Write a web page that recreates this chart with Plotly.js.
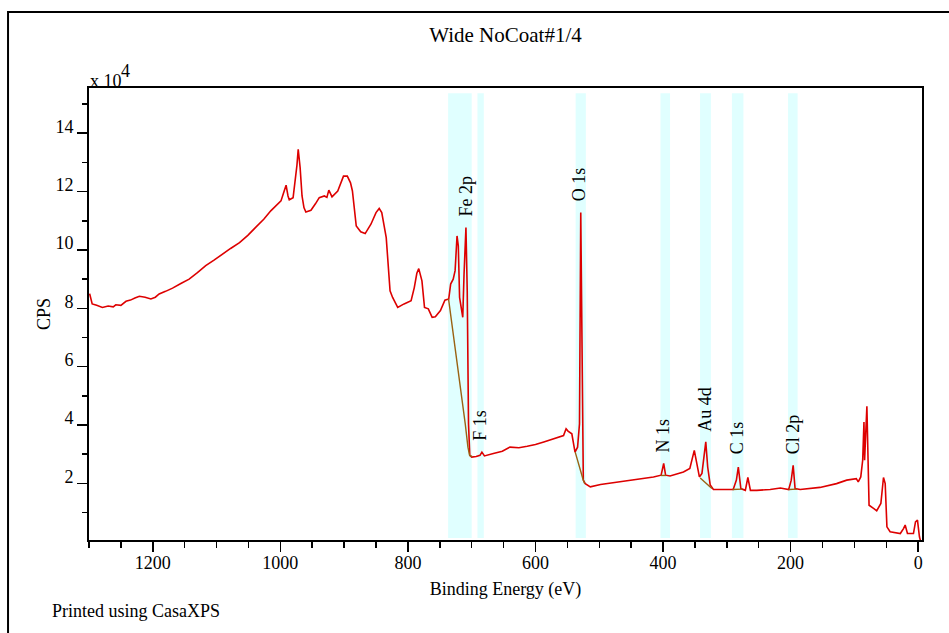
<!DOCTYPE html>
<html>
<head>
<meta charset="utf-8">
<script src="https://cdn.plot.ly/plotly-3.0.1.min.js"></script>
<style>html,body{margin:0;padding:0;background:#fff;}#chart{width:949px;height:633px;}</style>
</head>
<body>
<div id="chart"></div>
<script>
// Binding energy (eV) and CPS (x 10^4) of the survey spectrum
const energy = [1299,1297,1295,1288,1279,1270,1262,1258,1250,1242,1235,1228,1221,1212,1203,1196,1190,1180,1169,1156,1143,1130,1117,1104,1091,1078,1064,1051,1038,1026,1015,1006,999,995,991,988,986,980,977,974,972,969,966,963,960,952,945,939,931,927,924,921,919,910,904,901,895,890,887,884,881,874,867,858,850,845,841,834,828,824,816,806,795,790,786,783,780,778,774,768,762,757,749,742,736,733,729,726,723,721,719,715,714,712,709,707,705,703,700,693,687,684,680,666,652,640,626,613,600,587,576,566,556,552,549,543,538,534,531,529,527,525,522,514,498,467,441,415,403,399,396,389,368,358,351,348,343,339,336,333,330,326,321,305,290,285,282,278,271,267,263,253,232,216,203,199,196,193,185,154,128,112,97,94,90,87,85,84,82,80.4,79,77,70,65,58.5,54.4,51.7,49,44,28,23,20.4,16.8,7.4,4.2,1.1,-2,-4];
const cps = [8.50,8.30,8.15,8.10,8.03,8.08,8.05,8.12,8.10,8.24,8.28,8.35,8.41,8.38,8.32,8.38,8.49,8.58,8.69,8.85,9.00,9.22,9.46,9.65,9.86,10.05,10.25,10.50,10.79,11.05,11.34,11.52,11.68,11.95,12.22,11.85,11.72,11.79,12.30,12.90,13.45,12.82,11.85,11.45,11.30,11.36,11.58,11.79,11.85,11.80,12.05,11.90,11.82,12.02,12.35,12.53,12.53,12.30,12.02,11.40,10.82,10.62,10.56,10.88,11.28,11.42,11.28,10.42,8.60,8.37,8.03,8.15,8.26,8.71,9.20,9.36,9.10,8.94,8.03,7.98,7.69,7.71,7.92,8.28,8.32,8.83,9.00,9.29,10.48,10.14,8.37,7.92,7.69,9.17,10.77,8.60,4.04,2.96,2.90,2.92,2.96,3.07,2.94,3.02,3.10,3.24,3.22,3.27,3.33,3.42,3.50,3.59,3.64,3.87,3.79,3.70,3.07,3.24,4.04,11.28,7.46,2.11,1.99,1.88,1.96,2.05,2.13,2.22,2.28,2.68,2.28,2.25,2.39,2.51,3.13,2.79,2.22,2.34,2.79,3.42,2.56,1.94,1.79,1.79,1.79,2.11,2.56,1.82,1.76,2.20,1.76,1.76,1.79,1.84,1.79,2.11,2.62,1.82,1.79,1.86,1.99,2.11,2.16,2.05,2.22,2.79,4.10,2.79,3.70,4.64,3.24,1.25,1.14,1.06,1.31,2.20,1.99,0.51,0.34,0.28,0.45,0.57,0.28,0.28,0.68,0.74,0.17,0.0];

// Peak backgrounds (gaps separate regions)
const bgEnergy = [736.3,731,725.8,720.6,715.3,710.1,705.9,703.3,699.6,null,537.7,531.5,525.7,522.9,null,403.4,395.5,null,341.7,332,323.4,null,291,276,null,203,190];
const bgCps = [8.32,7.46,6.66,5.87,4.95,4.04,3.24,2.96,2.92,null,3.07,2.56,2.16,1.99,null,2.27,2.27,null,2.18,2.0,1.82,null,1.79,1.80,null,1.79,1.80];

// Quantification regions
const regionNames = ['Fe 2p','F 1s','O 1s','N 1s','Au 4d','C 1s','Cl 2p'];
const regionHigh = [737,691,537,404,342,292,204];
const regionLow = [700,681,521,389,325,274,189];
const labelEnergy = [709.4,687.4,531.4,399.8,334.7,283.7,196];
const labelCps = [11.12,3.43,11.64,3.03,3.74,2.95,2.97];

const xTickVals = [1200,1000,800,600,400,200,0];
const yTickVals = [2,4,6,8,10,12,14];

const FONT = '"Liberation Serif", "Times New Roman", serif';

const shapes = regionNames.map((n,i)=>({
  type:'rect', xref:'x', yref:'y', x0:regionLow[i], x1:regionHigh[i], y0:0.13, y1:15.37,
  fillcolor:'#e0ffff', line:{width:0}, layer:'below'
}));
// outer frame of the printout
shapes.push({type:'rect', xref:'paper', yref:'paper', x0:-0.0972, x1:1.06, y0:-0.25, y1:1.168,
  line:{color:'#000', width:2}, fillcolor:'rgba(0,0,0,0)', layer:'above'});

const annotations = regionNames.map((n,i)=>({
  x:labelEnergy[i], y:labelCps[i], xref:'x', yref:'y', text:n, textangle:-90,
  showarrow:false, xanchor:'center', yanchor:'bottom', borderpad:0,
  font:{family:FONT, size:18, color:'#000'}
}));
annotations.push({xref:'paper', yref:'paper', x:0, y:1.015, xanchor:'left', yanchor:'middle',
  text:'x 10', showarrow:false, borderpad:0, font:{family:FONT, size:18, color:'#000'}});
annotations.push({xref:'paper', yref:'paper', x:0.0375, y:1.038, xanchor:'left', yanchor:'middle',
  text:'4', showarrow:false, borderpad:0, font:{family:FONT, size:18, color:'#000'}});
annotations.push({xref:'paper', yref:'paper', x:-0.046, y:-0.157, xanchor:'left', yanchor:'middle',
  text:'Printed using CasaXPS', showarrow:false, borderpad:0, font:{family:FONT, size:18, color:'#000'}});

const data = [
  {x:energy, y:cps, type:'scatter', mode:'lines', line:{color:'#dd0000', width:1.6}, hoverinfo:'skip'},
  {x:bgEnergy, y:bgCps, type:'scatter', mode:'lines', line:{color:'#9a6212', width:1.4}, connectgaps:false, hoverinfo:'skip'}
];

const layout = {
  width:949, height:633,
  margin:{l:89, r:27, t:88, b:93},
  paper_bgcolor:'#fff', plot_bgcolor:'#fff',
  showlegend:false,
  font:{family:FONT, size:18, color:'#000'},
  title:{text:'Wide NoCoat#1/4', font:{family:FONT, size:21, color:'#000'}, x:0.5, xref:'paper', y:0.946, yref:'container', yanchor:'middle'},
  xaxis:{
    range:[1300,-6], tickvals:xTickVals, ticks:'outside', ticklen:10, tickwidth:1.5, tickcolor:'#000',
    minor:{dtick:50, tick0:0, ticks:'outside', ticklen:6, tickwidth:1.5, tickcolor:'#000'},
    showgrid:false, zeroline:false, showline:true, linewidth:2, linecolor:'#000', mirror:true,
    tickfont:{family:FONT, size:18}, ticklabelstandoff:-5,
    title:{text:'Binding Energy (eV)', font:{family:FONT, size:18}, standoff:11}
  },
  yaxis:{
    range:[0.058,15.55], tickvals:yTickVals, ticks:'outside', ticklen:10, tickwidth:1.5, tickcolor:'#000',
    minor:{dtick:1, tick0:0, ticks:'outside', ticklen:5, tickwidth:1.5, tickcolor:'#000'},
    showgrid:false, zeroline:false, showline:true, linewidth:2, linecolor:'#000', mirror:true,
    tickfont:{family:FONT, size:18}, ticklabelshift:-7, ticklabelstandoff:0,
    title:{text:'CPS', font:{family:FONT, size:18}, standoff:0}
  },
  shapes:shapes,
  annotations:annotations
};

Plotly.newPlot('chart', data, layout, {staticPlot:true, displayModeBar:false});
</script>
</body>
</html>
